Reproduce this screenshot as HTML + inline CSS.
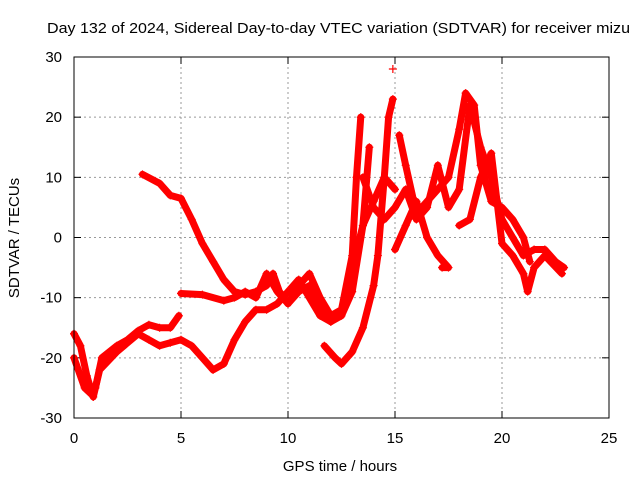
<!DOCTYPE html>
<html><head><meta charset="utf-8"><style>
body{margin:0;background:#fff}
svg{display:block;font-family:"Liberation Sans",sans-serif}
</style></head><body>
<svg id="chart" width="640" height="480">
<text x="47" y="33" font-size="15" textLength="583" lengthAdjust="spacingAndGlyphs">Day 132 of 2024, Sidereal Day-to-day VTEC variation (SDTVAR) for receiver mizu</text>
<text x="340" y="471" font-size="15" text-anchor="middle">GPS time / hours</text>
<text x="19" y="238" font-size="15" text-anchor="middle" transform="rotate(-90 19 238)">SDTVAR / TECUs</text>
<g id="grid"></g><g id="axes"></g><g id="marks"></g>
<rect x="74" y="57" width="535" height="361" fill="none" stroke="#000" stroke-width="1"/>
</svg>
<script>
const xTicks=[0,5,10,15,20,25];
const yTicks=[-30,-20,-10,0,10,20,30];
const s1=[[3.2,10.5],[4,9],[4.5,7],[5,6.5],[5.5,3],[6,-1],[6.5,-4],[7,-7],[7.5,-9],[8,-9.5],[8.5,-9],[9,-8],[9.3,-6],[9.6,-9],[10,-11],[10.5,-8],[11,-6],[11.5,-10],[12,-13],[12.5,-12],[13,-3],[13.2,10],[13.4,20]];
const s2=[[5,-9.3],[6,-9.5],[7,-10.5],[7.5,-10],[8,-9],[8.5,-10],[9,-6],[9.5,-9],[10,-11],[10.5,-9],[11,-8],[11.5,-12],[12,-14],[12.5,-13],[13,-9],[13.5,2],[13.8,15]];
const s3=[[0,-20],[0.5,-25],[0.8,-26],[1,-25],[1.3,-20],[2,-18],[2.5,-17],[3,-15.5],[3.5,-14.5],[4,-15],[4.5,-15],[4.9,-13]];
const s4=[[0,-16],[0.3,-18],[0.6,-23],[0.9,-26.5],[1.2,-22],[2,-19],[3,-16],[3.5,-17],[4,-18],[4.5,-17.5],[5,-17],[5.5,-18],[6,-20],[6.5,-22],[7,-21],[7.5,-17],[8,-14],[8.5,-12],[9,-12],[9.5,-11],[10,-9],[10.5,-7],[11,-10],[11.5,-13],[12,-14],[12.5,-12],[13,-5],[13.5,2],[14,6],[14.5,10],[15,8]];
const s5=[[11.7,-18],[12.2,-20],[12.5,-21],[13,-19],[13.5,-15],[14,-8],[14.2,-3],[14.5,10],[14.7,20],[14.9,23]];
const s6=[[13.5,10],[14,5],[14.5,3],[15,5],[15.5,8],[16,3],[16.5,5],[17,12],[17.5,5],[18,8],[18.5,22],[19,15],[19.5,10],[20,3],[20.5,0],[21,-3],[21.5,-2],[22,-2],[22.5,-4],[22.9,-5]];
const s7=[[15,-2],[15.5,2],[16,6],[16.5,0],[17,-3],[17.5,-5],[17.2,-5]];
const s8=[[15.2,17],[15.5,12],[16,4],[17,8],[17.5,10],[18,18],[18.3,24],[18.7,22],[19,12],[19.5,6],[20,5],[20.5,3],[21,0],[21.3,-4]];
const s9=[[18,2],[18.5,3],[19,10],[19.5,14],[20,-1],[20.5,-3],[21,-6],[21.2,-9],[21.5,-5],[22,-3],[22.8,-6]];
const s10=[[14.9,28]];
const seriesList=[s1,s2,s3,s4,s5,s6,s7,s8,s9,s10];
const NS='http://www.w3.org/2000/svg';
const xs=v=>74+v*535/25, ys=v=>418-(v+30)*361/60;
const grid=document.getElementById('grid'),axes=document.getElementById('axes'),marks=document.getElementById('marks');
function mk(tag,attrs,parent){const e=document.createElementNS(NS,tag);for(const k in attrs)e.setAttribute(k,attrs[k]);parent.appendChild(e);return e;}
xTicks.forEach(t=>{
 if(t>0&&t<25){const g=mk('line',{x1:xs(t),x2:xs(t),y1:57,y2:418,stroke:'#999','stroke-dasharray':'2,3'},grid);
 
 }
 const l=mk('text',{x:xs(t),y:443,'font-size':15,'text-anchor':'middle'},axes);l.textContent=t;
 
 
 mk('line',{x1:xs(t),x2:xs(t),y1:418,y2:411,stroke:'#000'},axes);
 mk('line',{x1:xs(t),x2:xs(t),y1:57,y2:64,stroke:'#000'},axes);
});
yTicks.forEach(t=>{
 if(t>-30&&t<30){const g=mk('line',{x1:74,x2:609,y1:ys(t),y2:ys(t),stroke:'#999','stroke-dasharray':'2,3'},grid);
 
 }
 const l=mk('text',{x:62,y:ys(t)+5,'font-size':15,'text-anchor':'end'},axes);l.textContent=t;
 
 
 mk('line',{x1:74,x2:81,y1:ys(t),y2:ys(t),stroke:'#000'},axes);
 mk('line',{x1:609,x2:602,y1:ys(t),y2:ys(t),stroke:'#000'},axes);
});
seriesList.forEach((s,i)=>{
 const pl=mk('polyline',{points:s.map(p=>xs(p[0])+','+ys(p[1])).join(' '),fill:'none',stroke:'#f00','stroke-width':7,'stroke-linejoin':'round','stroke-linecap':'round'},marks);
 
 
 s.forEach(p=>{const x=xs(p[0]),y=ys(p[1]);
  const m=mk('path',{d:`M${x-4},${y}H${x+4}M${x},${y-4}V${y+4}`,stroke:'#f00','stroke-width':1.2},marks);
  
  });
});
</script>
</body></html>
